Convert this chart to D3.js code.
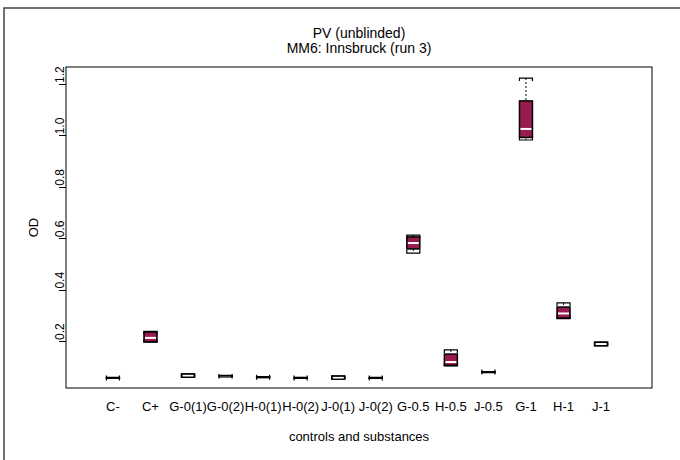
<!DOCTYPE html>
<html><head><meta charset="utf-8">
<script src="https://cdn.jsdelivr.net/npm/d3@7"></script>
<style>body{margin:0;background:#fff;}svg{display:block;font-family:"Liberation Sans",Arial,sans-serif;}</style>
</head><body>
<svg id="c" width="680" height="460"></svg>
<script>
const categories = ["C-","C+","G-0(1)","G-0(2)","H-0(1)","H-0(2)","J-0(1)","J-0(2)","G-0.5","H-0.5","J-0.5","G-1","H-1","J-1"];
const minVals    = [0.054,0.195,0.058,0.060,0.057,0.054,0.051,0.054,0.542,0.103,0.077,0.982,0.287,0.181];
const q1Vals     = [0.055,0.197,0.059,0.062,0.058,0.055,0.052,0.055,0.558,0.105,0.078,0.992,0.289,0.182];
const medVals    = [0.056,0.212,0.065,0.063,0.059,0.056,0.057,0.056,0.581,0.118,0.079,1.025,0.307,0.188];
const q3Vals     = [0.057,0.235,0.071,0.064,0.060,0.057,0.063,0.057,0.605,0.149,0.080,1.134,0.332,0.195];
const maxVals    = [0.058,0.237,0.072,0.066,0.061,0.058,0.064,0.058,0.612,0.165,0.081,1.223,0.348,0.196];
const yTicks     = [0.2,0.4,0.6,0.8,1.0,1.2];
const titleLines = ["PV (unblinded)","MM6: Innsbruck (run 3)"];
const xTitle = "controls and substances";
const yTitle = "OD";

const svg = d3.select("#c");
const L=66,R=652,T=67,B=388;
const x = d3.scalePoint().domain(categories).range([L,648]).padding(1.25);
const y = d3.scaleLinear().domain([0.017,1.266]).range([B,T]);
const bw = 13, fill = "#991b4f";

// outer border
svg.append("path").attr("d","M4,470V8H690").attr("fill","none").attr("stroke","#444").attr("stroke-width",1.5);

// frame
svg.append("rect").attr("x",L).attr("y",T).attr("width",R-L).attr("height",B-T)
  .attr("fill","none").attr("stroke","#000").attr("stroke-width",1);

// titles
svg.selectAll("text.title").data(titleLines).join("text").attr("class","title")
  .attr("x",(L+R)/2).attr("y",(d,i)=>38+i*15).attr("text-anchor","middle")
  .attr("font-size",14).text(d=>d);

// y ticks
const yg = svg.append("g");
yg.selectAll("line").data(yTicks).join("line")
  .attr("x1",L-7).attr("x2",L).attr("y1",d=>Math.round(y(d))+0.5).attr("y2",d=>Math.round(y(d))+0.5)
  .attr("stroke","#000");
yg.selectAll("text").data(yTicks).join("text")
  .attr("transform",d=>`translate(${L-2},${y(d)-1}) rotate(-90)`)
  .attr("font-size",12).attr("text-anchor","start").text(d=>d3.format(".1f")(d));

// x labels
svg.selectAll("text.xl").data(categories).join("text").attr("class","xl")
  .attr("x",d=>x(d)).attr("y",411).attr("text-anchor","middle").attr("font-size",13).text(d=>d);

svg.append("text").attr("x",(L+R)/2).attr("y",441).attr("text-anchor","middle").attr("font-size",13).text(xTitle);
svg.append("text").attr("transform",`translate(38,${(T+B)/2}) rotate(-90)`).attr("text-anchor","middle").attr("font-size",13).text(yTitle);

// boxes
const g = svg.append("g");
categories.forEach((c,i)=>{
  const cx = x(c), x0 = cx-bw/2, x1 = cx+bw/2;
  const yMin=y(minVals[i]), yQ1=y(q1Vals[i]), yMed=y(medVals[i]), yQ3=y(q3Vals[i]), yMax=y(maxVals[i]);
  g.append("line").attr("x1",cx).attr("x2",cx).attr("y1",yMax).attr("y2",yQ3).attr("stroke","#000").attr("stroke-dasharray","2,2");
  g.append("line").attr("x1",cx).attr("x2",cx).attr("y1",yQ1).attr("y2",yMin).attr("stroke","#000").attr("stroke-dasharray","2,2");
  g.append("rect").attr("x",x0).attr("y",yQ3).attr("width",bw).attr("height",Math.max(0.5,yQ1-yQ3))
    .attr("fill",fill).attr("stroke","#000").attr("stroke-width",1.5);
  g.append("line").attr("x1",x0+1).attr("x2",x1-1).attr("y1",yMed).attr("y2",yMed).attr("stroke","#fff").attr("stroke-width",2);
  g.append("path").attr("d",`M${x0},${yMax+3}V${yMax}H${x1}V${yMax+3}`).attr("fill","none").attr("stroke","#000").attr("stroke-width",1.2);
  g.append("path").attr("d",`M${x0},${yMin-3}V${yMin}H${x1}V${yMin-3}`).attr("fill","none").attr("stroke","#000").attr("stroke-width",1.2);
});
</script>
</body></html>
